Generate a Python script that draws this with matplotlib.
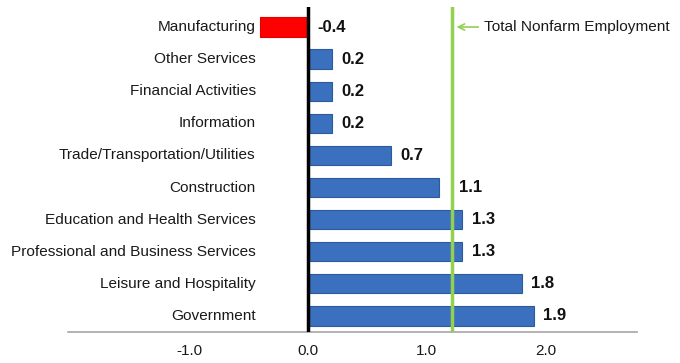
import matplotlib
matplotlib.use("Agg")
import matplotlib.pyplot as plt

plt.rcParams['font.family'] = ['Liberation Sans', 'DejaVu Sans']

categories = ['Government', 'Leisure and Hospitality', 'Professional and Business Services',
              'Education and Health Services', 'Construction', 'Trade/Transportation/Utilities',
              'Information', 'Financial Activities', 'Other Services', 'Manufacturing']
values = [1.9, 1.8, 1.3, 1.3, 1.1, 0.7, 0.2, 0.2, 0.2, -0.4]
total_nonfarm = 1.21
xticks = [-1.0, 0.0, 1.0, 2.0]

fig = plt.figure(figsize=(6.8, 3.63), dpi=100)
ax = fig.add_axes([0.1, 0.0854, 0.837, 0.895])

ypos = list(range(len(categories)))
colors = ['#ff0000' if v < 0 else '#3a70bd' for v in values]
edges = ['#e00000' if v < 0 else '#2c5a9c' for v in values]
ax.barh(ypos, values, height=0.6, color=colors, edgecolor=edges, linewidth=0.8, zorder=2)

# category labels sit just left of the widest negative bar
for y, name in zip(ypos, categories):
    ax.text(-0.44, y, name, ha='right', va='center', fontsize=11.1, color='#1a1a1a')

# value labels, pushed past the green line when they would sit on it
for y, v in zip(ypos, values):
    x = max(v, 0) + 0.08
    if x < total_nonfarm + 0.05 and x + 0.2 > total_nonfarm:
        x = total_nonfarm + 0.06
    ax.text(x, y, '%.1f' % v, ha='left', va='center', fontsize=12, fontweight='bold', color='#111111')

ax.axvline(0, color='black', linewidth=2.5, zorder=3)
ax.axvline(total_nonfarm, color='#92d050', linewidth=2.5, zorder=3)
ax.annotate('Total Nonfarm Employment', xy=(total_nonfarm + 0.04, 9), xytext=(total_nonfarm + 0.27, 9),
            va='center', fontsize=11.1, color='#1a1a1a',
            arrowprops=dict(arrowstyle='->', color='#92d050', lw=1.2, shrinkA=2, shrinkB=0))

ax.set_xlim(-2.02, 2.77)
ax.set_ylim(-0.5, 9.62)
ax.set_xticks(xticks)
ax.set_xticklabels(['%.1f' % t for t in xticks], fontsize=11, color='#1a1a1a')
ax.set_yticks([])
ax.tick_params(axis='x', length=0, pad=9)
for s in ['top', 'right', 'left']:
    ax.spines[s].set_visible(False)
ax.spines['bottom'].set_color('#a6a6a6')
ax.spines['bottom'].set_linewidth(1.2)

fig.savefig('out.png', dpi=100)
